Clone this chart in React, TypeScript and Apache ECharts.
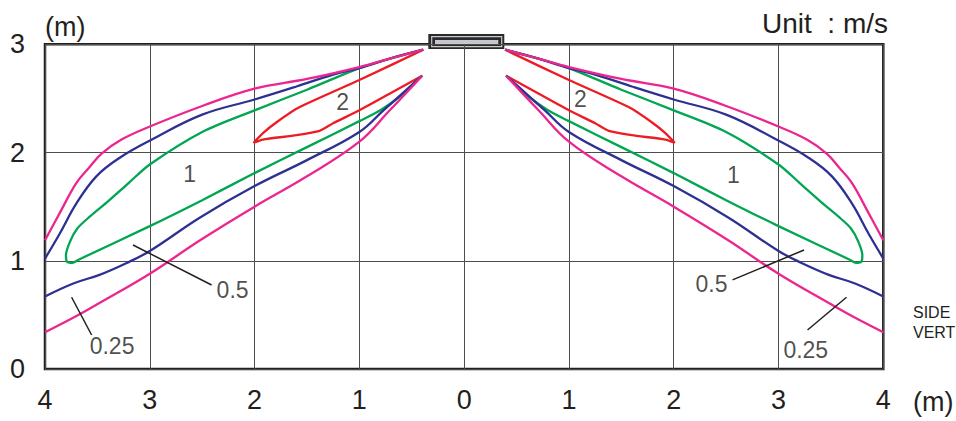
import React, { useEffect, useRef } from "react";
import * as echarts from "echarts";

// Left half of the side view (x < 0); right half is the mirror image.
const pinkUpper: number[][] = [
  [-0.39, 2.95], [-0.7, 2.87], [-1.0, 2.79], [-1.5, 2.68], [-2.0, 2.59], [-2.5, 2.43],
  [-3.0, 2.24], [-3.27, 2.12], [-3.46, 1.99], [-3.58, 1.86], [-3.7, 1.72], [-3.86, 1.44], [-4.0, 1.19],
];
const pinkLower: number[][] = [
  [-4.0, 0.34], [-3.7, 0.49], [-3.48, 0.61], [-3.0, 0.88], [-2.52, 1.19], [-2.0, 1.5],
  [-1.5, 1.78], [-1.0, 2.1], [-0.71, 2.39], [-0.4, 2.71],
];
const blueUpper: number[][] = [
  [-0.39, 2.95], [-0.7, 2.87], [-1.0, 2.78], [-1.25, 2.72], [-1.6, 2.61], [-2.0, 2.49],
  [-2.5, 2.35], [-2.98, 2.12], [-3.29, 1.95], [-3.51, 1.78], [-3.7, 1.53], [-3.86, 1.25], [-4.0, 1.02],
];
const blueLower: number[][] = [
  [-4.0, 0.67], [-3.73, 0.79], [-3.48, 0.87], [-3.22, 0.98], [-3.0, 1.09], [-2.52, 1.4],
  [-2.0, 1.69], [-1.5, 1.93], [-1.0, 2.19], [-0.77, 2.39], [-0.4, 2.71],
];
const greenLoop: number[][] = [
  [-0.39, 2.95], [-0.7, 2.87], [-1.0, 2.78], [-1.5, 2.58], [-2.0, 2.39], [-2.5, 2.19],
  [-3.0, 1.89], [-3.2, 1.72], [-3.41, 1.54], [-3.57, 1.41], [-3.69, 1.3], [-3.76, 1.18],
  [-3.8, 1.05], [-3.79, 0.99], [-3.74, 0.98], [-3.68, 1.01], [-3.0, 1.32], [-2.5, 1.56],
  [-2.0, 1.81], [-1.5, 2.05], [-1.0, 2.29], [-0.8, 2.39], [-0.61, 2.52], [-0.4, 2.71],
];
const redLoop: number[][] = [
  [-0.39, 2.95], [-1.0, 2.67], [-1.57, 2.42], [-1.79, 2.28], [-1.92, 2.18], [-2.01, 2.09],
  [-1.92, 2.12], [-1.6, 2.16], [-1.38, 2.2], [-1.25, 2.27], [-1.0, 2.39], [-0.7, 2.55], [-0.4, 2.71],
];

// Contour value labels [x, y, text]
const valueLabels: (number | string)[][] = [
  [-1.16, 2.47, "2"], [-2.62, 1.805, "1"], [-2.21, 0.73, "0.5"], [-3.36, 0.213, "0.25"],
  [1.11, 2.49, "2"], [2.57, 1.793, "1"], [2.36, 0.786, "0.5"], [3.26, 0.18, "0.25"],
];
// Leader lines
const leaders: number[][][] = [
  [[-3.16, 1.146], [-2.41, 0.776]],
  [[-3.746, 0.663], [-3.555, 0.314]],
  [[2.561, 0.823], [3.244, 1.1]],
  [[3.277, 0.36], [3.649, 0.663]],
];

const xTicks = { min: -4, max: 4, interval: 1 };
const yTicks = { min: 0, max: 3, interval: 1 };

const PINK = "#EC268F";
const BLUE = "#2E3192";
const GREEN = "#00A651";
const RED = "#ED1C24";
const INK = "#231f20";
const FONT = "'Liberation Sans', Arial, sans-serif";

const mirror = (arr: number[][]) => arr.map(([x, y]) => [-x, y]);

export default function App() {
  const ref = useRef<HTMLDivElement>(null);
  useEffect(() => {
    if (!ref.current) return;
    const chart = echarts.init(ref.current, undefined, { renderer: "svg" });
    const lineSeries = (data: number[][], color: string, z: number, smooth: number) => ({
      type: "line",
      data,
      symbol: "none",
      smooth,
      lineStyle: { color, width: 2.3 },
      z,
      silent: true,
    });
    const curves: [number[][], string, number, number][] = [
      [redLoop, RED, 2, 0.2],
      [greenLoop, GREEN, 3, 0.3],
      [blueUpper, BLUE, 4, 0.4],
      [blueLower, BLUE, 4, 0.4],
      [pinkUpper, PINK, 5, 0.4],
      [pinkLower, PINK, 5, 0.4],
    ];
    const series: any[] = [];
    curves.forEach(([d, c, z, s]) => {
      series.push(lineSeries(d, c, z, s));
      series.push(lineSeries(mirror(d), c, z, s));
    });
    leaders.forEach((seg) => {
      series.push({
        type: "line",
        data: seg,
        symbol: "none",
        lineStyle: { color: INK, width: 1.5 },
        z: 6,
        silent: true,
      });
    });
    series.push({
      type: "scatter",
      data: valueLabels,
      symbolSize: 1,
      itemStyle: { color: "rgba(0,0,0,0)" },
      label: {
        show: true,
        position: "inside",
        formatter: (p: any) => p.data[2],
        fontSize: 23,
        fontFamily: FONT,
        color: INK,
      },
      z: 7,
      silent: true,
    });

    chart.setOption({
      animation: false,
      backgroundColor: "#ffffff",
      textStyle: { fontFamily: FONT },
      grid: {
        left: 45,
        right: 72.7,
        top: 44.3,
        bottom: 52,
        show: true,
        borderColor: INK,
        borderWidth: 2.5,
      },
      xAxis: {
        type: "value",
        ...xTicks,
        axisLine: { show: false },
        axisTick: { show: false },
        axisLabel: {
          formatter: (v: number) => String(Math.abs(v)),
          fontSize: 27,
          color: INK,
          fontFamily: FONT,
          margin: 17,
        },
        splitLine: { show: true, lineStyle: { color: "#4d4d4d", width: 1 } },
      },
      yAxis: {
        type: "value",
        ...yTicks,
        axisLine: { show: false },
        axisTick: { show: false },
        axisLabel: {
          fontSize: 27,
          color: INK,
          fontFamily: FONT,
          margin: 20,
        },
        splitLine: { show: true, lineStyle: { color: "#4d4d4d", width: 1 } },
      },
      graphic: [
        { type: "text", left: 45, top: 13, style: { text: "(m)", fontSize: 27, fontFamily: FONT, fill: INK } },
        { type: "text", left: 762, top: 9, style: { text: "Unit  : m/s", fontSize: 28, fontFamily: FONT, fill: INK } },
        { type: "text", left: 913, top: 388, style: { text: "(m)", fontSize: 27, fontFamily: FONT, fill: INK } },
        { type: "text", left: 913, top: 304, style: { text: "SIDE", fontSize: 16, fontFamily: FONT, fill: INK } },
        { type: "text", left: 913, top: 324, style: { text: "VERT", fontSize: 16, fontFamily: FONT, fill: INK } },
        {
          type: "group",
          z: 100,
          children: [
            { type: "rect", shape: { x: 428.3, y: 34, width: 76, height: 15 }, style: { fill: "#2b2a2a" } },
            { type: "rect", shape: { x: 431.7, y: 36.7, width: 70, height: 10 }, style: { fill: "none", stroke: "#c9c9c9", lineWidth: 1.2 } },
            { type: "rect", shape: { x: 435, y: 40, width: 63.3, height: 4 }, style: { fill: "#c5c9cf" } },
          ],
        },
      ],
      series,
    });
    return () => chart.dispose();
  }, []);
  return (
    <div
      ref={ref}
      style={{ position: "absolute", left: 0, top: 0, width: 956, height: 421, background: "#fff" }}
    />
  );
}
